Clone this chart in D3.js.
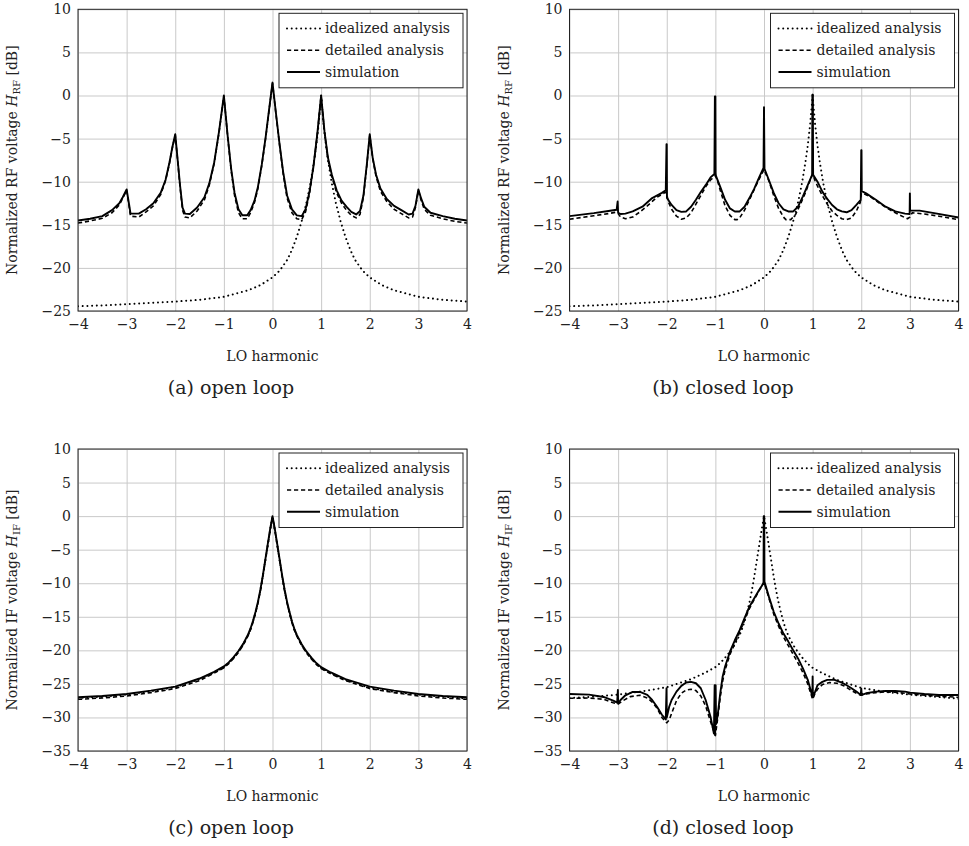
<!DOCTYPE html>
<html><head><meta charset="utf-8">
<script src="https://cdn.jsdelivr.net/npm/d3@7"></script>
<style>
html,body{margin:0;padding:0;background:#fff;}
svg{display:block;}
text{font-family:"DejaVu Serif",serif;fill:#222;}
</style></head>
<body>
<svg id="chart" width="969" height="846"></svg>
<script>
// ---------------- DATA ----------------
const xTicks = [-4,-3,-2,-1,0,1,2,3,4];
const yTicksRF = [10,5,0,-5,-10,-15,-20,-25];
const yTicksIF = [10,5,0,-5,-10,-15,-20,-25,-30,-35];
const legendLabels = ["idealized analysis","detailed analysis","simulation"];
const captions = ["(a) open loop","(b) closed loop","(c) open loop","(d) closed loop"];
const xLabel = "LO harmonic";

// idealized RF (panels a, b)
const idealRF_x = [-4,-3.5,-3,-2.5,-2,-1.5,-1,-0.5,-0.25,0,0.15,0.3,0.4,0.5,0.6,0.7,0.78,0.85,0.9,0.95,1,1.05,1.1,1.15,1.22,1.3,1.4,1.5,1.6,1.7,1.85,2,2.25,2.5,3,3.5,4];
const idealRF_y = [-24.45,-24.35,-24.2,-24.05,-23.9,-23.7,-23.35,-22.6,-22.0,-21.1,-20.3,-19.1,-17.9,-16.4,-14.6,-12.4,-10.2,-7.8,-5.8,-3.3,0,-3.3,-5.8,-7.8,-10.2,-12.4,-14.6,-16.4,-17.9,-19.1,-20.3,-21.1,-22.0,-22.6,-23.35,-23.7,-23.9];

// panel (a) open loop RF
const simA_x = [-4,-3.75,-3.5,-3.3,-3.15,-3.08,-3,-2.95,-2.92,-2.75,-2.6,-2.45,-2.3,-2.2,-2.12,-2.06,-2,-1.95,-1.9,-1.85,-1.8,-1.7,-1.55,-1.4,-1.3,-1.2,-1.1,-1,-0.92,-0.85,-0.78,-0.7,-0.62,-0.52,-0.45,-0.37,-0.3,-0.22,-0.14,-0.07,0,0.07,0.14,0.22,0.3,0.4,0.5,0.6,0.68,0.76,0.84,0.92,1,1.07,1.14,1.22,1.32,1.42,1.52,1.62,1.72,1.8,1.87,1.94,2,2.06,2.13,2.22,2.35,2.5,2.65,2.8,2.88,2.94,3,3.06,3.12,3.25,3.5,3.75,4];
const simA_y = [-14.5,-14.3,-14.0,-13.3,-12.5,-11.8,-10.9,-12.6,-13.7,-13.7,-13.2,-12.5,-11.3,-9.8,-7.8,-6.0,-4.5,-7.5,-10.5,-13.0,-13.7,-13.75,-13.0,-11.8,-10.2,-7.8,-4.2,0,-4.8,-8.5,-11.3,-13.2,-13.9,-13.9,-13.3,-12.2,-10.6,-8.0,-4.8,-1.6,1.5,-2.0,-5.4,-8.9,-11.6,-13.2,-13.9,-14.0,-13.2,-11.2,-8.3,-4.5,0,-4.2,-7.2,-9.2,-11.0,-12.2,-12.9,-13.5,-13.8,-13.4,-11.6,-8.0,-4.5,-7.2,-9.2,-10.8,-12.0,-12.8,-13.3,-13.8,-13.7,-12.8,-10.9,-12.0,-12.9,-13.6,-14.0,-14.3,-14.5];
const detA_x = simA_x;
const detA_y = [-14.8,-14.55,-14.25,-13.6,-12.7,-11.9,-11.0,-12.8,-14.0,-14.1,-13.5,-12.8,-11.5,-9.9,-7.9,-6.1,-4.6,-7.6,-10.7,-13.3,-14.1,-14.2,-13.4,-12.1,-10.4,-7.9,-4.3,-0.1,-4.9,-8.7,-11.6,-13.6,-14.3,-14.3,-13.6,-12.4,-10.8,-8.1,-4.9,-1.7,1.4,-2.1,-5.5,-9.1,-11.9,-13.6,-14.3,-14.4,-13.5,-11.4,-8.4,-4.6,-0.1,-4.3,-7.4,-9.4,-11.3,-12.5,-13.3,-13.9,-14.2,-13.8,-11.8,-8.1,-4.6,-7.3,-9.4,-11.1,-12.3,-13.2,-13.7,-14.2,-14.1,-13.0,-11.0,-12.2,-13.2,-13.9,-14.3,-14.6,-14.8];

// panel (b) closed loop RF
const simB_x = [-4,-3.5,-3.2,-3.03,-3.01,-3,-2.95,-2.85,-2.7,-2.5,-2.3,-2.1,-2.02,-2.005,-2,-1.995,-1.9,-1.8,-1.7,-1.6,-1.5,-1.4,-1.3,-1.2,-1.1,-1.02,-1.01,-1.005,-1,-0.995,-0.99,-0.9,-0.8,-0.7,-0.6,-0.5,-0.4,-0.3,-0.2,-0.1,-0.01,0,0.01,0.1,0.2,0.3,0.4,0.5,0.6,0.7,0.8,0.9,0.99,0.995,1,1.005,1.01,1.1,1.2,1.3,1.4,1.5,1.6,1.7,1.8,1.9,1.99,2,2.005,2.01,2.1,2.3,2.5,2.7,2.9,2.995,3,3.005,3.2,3.5,4];
const simB_y = [-14.0,-13.65,-13.4,-13.25,-12.3,-13.6,-13.75,-13.7,-13.45,-12.9,-11.9,-11.3,-11.0,-5.65,-5.65,-11.9,-12.7,-13.3,-13.5,-13.45,-12.9,-12.1,-11.2,-10.4,-9.5,-9.1,-0.1,-9.0,-0.1,-9.0,-9.3,-10.6,-12.1,-13.1,-13.45,-13.45,-12.9,-11.9,-10.8,-9.5,-8.4,-1.35,-8.5,-9.8,-11.3,-12.5,-13.2,-13.45,-13.45,-12.9,-11.7,-10.4,-9.2,0.1,-9.1,0.1,-9.2,-10.0,-11.15,-12.0,-12.7,-13.2,-13.45,-13.55,-13.3,-12.7,-12.1,-6.35,-6.35,-11.1,-11.35,-12.1,-12.9,-13.45,-13.7,-13.75,-11.35,-13.35,-13.35,-13.65,-14.15];
const detB_x = [-4,-3.5,-3.2,-3.05,-3,-2.95,-2.85,-2.7,-2.55,-2.4,-2.2,-2.02,-2,-1.97,-1.9,-1.8,-1.7,-1.6,-1.5,-1.4,-1.3,-1.2,-1.1,-1,-0.95,-0.9,-0.8,-0.7,-0.6,-0.55,-0.5,-0.4,-0.3,-0.2,-0.1,0,0.1,0.2,0.3,0.4,0.45,0.55,0.65,0.75,0.85,0.95,1,1.05,1.1,1.2,1.3,1.4,1.5,1.6,1.7,1.8,1.9,1.98,2,2.02,2.2,2.4,2.6,2.8,2.95,3,3.05,3.3,3.6,4];
const detB_y = [-14.35,-13.95,-13.7,-13.55,-13.7,-14.1,-14.3,-14.1,-13.5,-12.8,-11.8,-11.2,-11.4,-12.3,-13.2,-14.0,-14.35,-14.2,-13.6,-12.6,-11.6,-10.6,-9.8,-9.3,-10.0,-11.0,-12.8,-13.9,-14.4,-14.4,-14.2,-13.3,-12.1,-10.9,-9.7,-8.6,-9.9,-11.6,-13.1,-14.1,-14.4,-14.4,-13.8,-12.6,-11.3,-9.8,-9.1,-9.9,-10.5,-11.6,-12.6,-13.4,-13.9,-14.3,-14.4,-14.2,-13.4,-12.4,-11.4,-11.3,-11.8,-12.6,-13.3,-13.9,-14.3,-14.1,-13.6,-13.75,-14.0,-14.4];

// idealized IF (panels c, d)
const idealIF_x = [-4,-3.5,-3,-2.5,-2,-1.5,-1.2,-1,-0.9,-0.8,-0.7,-0.6,-0.5,-0.45,-0.4,-0.35,-0.3,-0.25,-0.2,-0.15,-0.1,-0.05,0,0.05,0.1,0.15,0.2,0.25,0.3,0.35,0.4,0.45,0.5,0.6,0.7,0.8,0.9,1,1.2,1.5,2,2.5,3,3.5,4];
const idealIF_y = [-27.1,-26.9,-26.6,-26.1,-25.5,-24.3,-23.3,-22.5,-21.9,-21.1,-20.2,-19.1,-17.7,-16.8,-15.7,-14.4,-12.9,-11.1,-9.0,-6.7,-4.4,-2.1,0,-2.1,-4.4,-6.7,-9.0,-11.1,-12.9,-14.4,-15.8,-16.9,-17.8,-19.2,-20.3,-21.2,-22.0,-22.6,-23.4,-24.4,-25.6,-26.2,-26.6,-26.9,-27.2];

// panel (c) open loop IF
const simC_x = [-4,-3.5,-3,-2.5,-2,-1.5,-1.2,-1,-0.9,-0.8,-0.7,-0.6,-0.5,-0.45,-0.4,-0.35,-0.3,-0.25,-0.2,-0.15,-0.1,-0.05,0,0.05,0.1,0.15,0.2,0.25,0.3,0.35,0.4,0.45,0.5,0.6,0.7,0.8,0.9,1,1.2,1.5,2,2.5,3,3.5,4];
const simC_y = [-27.0,-26.8,-26.5,-26.0,-25.4,-24.2,-23.2,-22.4,-21.8,-21.0,-20.1,-19.0,-17.6,-16.7,-15.6,-14.3,-12.8,-11.0,-8.9,-6.6,-4.3,-2.0,0,-2.0,-4.3,-6.6,-8.9,-11.0,-12.8,-14.3,-15.7,-16.8,-17.7,-19.1,-20.2,-21.1,-21.9,-22.5,-23.3,-24.3,-25.4,-26.0,-26.5,-26.8,-27.0];
const detC_x = simC_x;
const detC_y = [-27.3,-27.1,-26.8,-26.3,-25.7,-24.5,-23.4,-22.6,-22.0,-21.2,-20.3,-19.2,-17.8,-16.9,-15.8,-14.5,-13.0,-11.2,-9.1,-6.8,-4.5,-2.2,-0.1,-2.2,-4.5,-6.8,-9.1,-11.2,-13.0,-14.5,-15.9,-17.0,-17.9,-19.3,-20.4,-21.3,-22.1,-22.7,-23.5,-24.5,-25.7,-26.3,-26.8,-27.1,-27.3];

// panel (d) closed loop IF
const simD_x = [-4,-3.6,-3.3,-3.1,-3.02,-3.005,-3,-2.95,-2.85,-2.7,-2.55,-2.4,-2.3,-2.2,-2.1,-2.02,-2.005,-2,-1.95,-1.9,-1.8,-1.7,-1.6,-1.5,-1.4,-1.3,-1.2,-1.1,-1.03,-1.015,-1.005,-0.995,-0.985,-0.95,-0.9,-0.85,-0.8,-0.7,-0.6,-0.5,-0.4,-0.3,-0.2,-0.1,-0.01,-0.005,0,0.005,0.01,0.1,0.2,0.3,0.4,0.5,0.6,0.7,0.8,0.9,0.97,0.995,1,1.005,1.05,1.1,1.2,1.3,1.45,1.6,1.7,1.8,1.9,1.99,2,2.01,2.1,2.3,2.5,2.7,2.9,3,3.3,3.6,4];
const simD_y = [-26.5,-26.6,-26.95,-27.5,-27.8,-25.9,-27.9,-27.4,-26.7,-26.2,-26.2,-26.65,-27.4,-28.4,-29.6,-30.3,-25.65,-30.0,-28.4,-27.4,-26.15,-25.3,-24.8,-24.7,-24.9,-25.65,-27.4,-29.9,-32.4,-25.2,-32.6,-25.2,-31.0,-29.5,-26.4,-23.9,-22.4,-20.2,-18.5,-17.0,-15.2,-13.5,-12.25,-11.0,-10.0,0,-9.9,0,-9.8,-12.0,-14.25,-16.0,-17.5,-18.7,-20.0,-21.2,-22.7,-24.4,-26.2,-26.9,-23.9,-27.0,-26.2,-25.2,-24.7,-24.4,-24.4,-24.8,-25.2,-25.65,-26.15,-26.65,-25.7,-26.65,-26.4,-26.15,-26.05,-26.05,-26.15,-26.3,-26.5,-26.65,-26.65];
const detD_x = [-4,-3.6,-3.3,-3.1,-3,-2.9,-2.75,-2.55,-2.4,-2.3,-2.2,-2.1,-2,-1.95,-1.9,-1.8,-1.7,-1.6,-1.5,-1.4,-1.3,-1.2,-1.1,-1,-0.95,-0.9,-0.85,-0.8,-0.7,-0.6,-0.5,-0.4,-0.3,-0.2,-0.1,0,0.1,0.2,0.3,0.4,0.5,0.6,0.7,0.8,0.9,1,1.05,1.1,1.2,1.35,1.5,1.65,1.8,1.9,2,2.1,2.3,2.5,2.8,3,3.5,4];
const detD_y = [-27.15,-27.1,-27.3,-27.8,-28.0,-27.5,-26.9,-26.7,-27.1,-27.7,-28.6,-30.0,-30.8,-30.4,-29.4,-27.5,-26.4,-25.9,-25.8,-26.0,-26.8,-28.3,-30.6,-32.7,-30.0,-27.0,-24.6,-22.9,-20.6,-19.0,-17.3,-15.5,-13.8,-12.4,-11.1,-9.8,-12.2,-14.6,-16.4,-18.0,-19.3,-20.6,-21.9,-23.3,-25.0,-27.3,-26.4,-25.8,-25.1,-24.8,-24.9,-25.3,-26.0,-26.4,-26.7,-26.5,-26.3,-26.2,-26.3,-26.5,-26.8,-27.0];

// ---------------- LAYOUT ----------------
const panels = [
  {L:78,   R:467,   T:9.3, B:311, yDom:[-25,10], yTicks:yTicksRF, sub:"RF", kind:"RF",
   ideal:[idealRF_x,idealRF_y], det:[detA_x,detA_y], sim:[simA_x,simA_y], cap:captions[0], capX:231},
  {L:569.5,R:958.5, T:9.3, B:311, yDom:[-25,10], yTicks:yTicksRF, sub:"RF", kind:"RF",
   ideal:[idealRF_x,idealRF_y], det:[detB_x,detB_y], sim:[simB_x,simB_y], cap:captions[1], capX:723},
  {L:78,   R:467,   T:449, B:751, yDom:[-35,10], yTicks:yTicksIF, sub:"IF", kind:"IF",
   ideal:[idealIF_x,idealIF_y], det:[detC_x,detC_y], sim:[simC_x,simC_y], cap:captions[2], capX:231},
  {L:569.5,R:958.5, T:449, B:751, yDom:[-35,10], yTicks:yTicksIF, sub:"IF", kind:"IF",
   ideal:[idealIF_x,idealIF_y], det:[detD_x,detD_y], sim:[simD_x,simD_y], cap:captions[3], capX:723}
];
const styles = [
  {dash:"0.01,4.7", w:2.0, cap:"round"},
  {dash:"4.2,2.8", w:1.6, cap:"butt"},
  {dash:null, w:1.9, cap:"butt"}
];
const FS = 14;

const svg = d3.select("#chart");
const defs = svg.append("defs");

panels.forEach((p,i)=>{
  const x = d3.scaleLinear().domain([-4,4]).range([p.L,p.R]);
  const y = d3.scaleLinear().domain(p.yDom).range([p.B,p.T]);
  const g = svg.append("g");

  const ax = g.append("g").attr("transform",`translate(0,${p.B})`)
    .call(d3.axisBottom(x).tickValues(xTicks).tickSize(-(p.B-p.T)).tickPadding(8).tickFormat(d3.format("d")));
  const ay = g.append("g").attr("transform",`translate(${p.L},0)`)
    .call(d3.axisLeft(y).tickValues(p.yTicks).tickSize(-(p.R-p.L)).tickPadding(7).tickFormat(d3.format("d")));
  [ax,ay].forEach(a=>{
    a.select(".domain").remove();
    a.selectAll(".tick line").attr("stroke","#c9c9c9").attr("stroke-width",1);
    a.selectAll(".tick text").attr("font-family","DejaVu Serif").attr("font-size",FS).attr("fill","#222");
  });

  const cid = "clip"+i;
  defs.append("clipPath").attr("id",cid).append("rect")
    .attr("x",p.L).attr("y",p.T).attr("width",p.R-p.L).attr("height",p.B-p.T);

  const line = d3.line().x(d=>x(d[0])).y(d=>y(d[1]));
  const series = [p.ideal,p.det,p.sim];
  const lg = g.append("g").attr("clip-path",`url(#${cid})`);
  series.forEach((s,k)=>{
    const pts = s[0].map((xv,j)=>[xv,s[1][j]]);
    lg.append("path").attr("d",line(pts)).attr("fill","none")
      .attr("stroke","#000").attr("stroke-width",styles[k].w)
      .attr("stroke-linejoin","round").attr("stroke-linecap",styles[k].cap)
      .attr("stroke-dasharray",styles[k].dash);
  });

  g.append("rect").attr("x",p.L).attr("y",p.T).attr("width",p.R-p.L).attr("height",p.B-p.T)
    .attr("fill","none").attr("stroke","#222").attr("stroke-width",1);

  const lw=184, lh=74.5;
  const lx = p.R-4-lw, ly = p.T+4;
  const leg = g.append("g");
  leg.append("rect").attr("x",lx).attr("y",ly).attr("width",lw).attr("height",lh)
    .attr("fill","#fff").attr("stroke","#222").attr("stroke-width",1);
  legendLabels.forEach((t,k)=>{
    const cy = ly + 15.3 + k*21.7;
    leg.append("line").attr("x1",lx+8).attr("x2",lx+41).attr("y1",cy).attr("y2",cy)
      .attr("stroke","#000").attr("stroke-width",styles[k].w)
      .attr("stroke-linecap",styles[k].cap).attr("stroke-dasharray",styles[k].dash);
    leg.append("text").attr("x",lx+46).attr("y",cy+4.8).attr("font-size",FS).text(t);
  });

  g.append("text").attr("x",(p.L+p.R)/2).attr("y",p.B+50).attr("text-anchor","middle")
    .attr("font-size",FS).text(xLabel);

  const yl = g.append("text").attr("text-anchor","middle").attr("font-size",FS)
    .attr("transform",`translate(${p.L-61},${(p.T+p.B)/2}) rotate(-90)`);
  yl.append("tspan").text(`Normalized ${p.kind} voltage `);
  yl.append("tspan").attr("font-style","italic").text("H");
  yl.append("tspan").attr("font-size",10).attr("dy",3).text(p.sub);
  yl.append("tspan").attr("dy",-3).text(" [dB]");

  g.append("text").attr("x",p.capX).attr("y",p.B+83).attr("text-anchor","middle")
    .attr("font-size",19).text(p.cap);
});
</script>
</body></html>
